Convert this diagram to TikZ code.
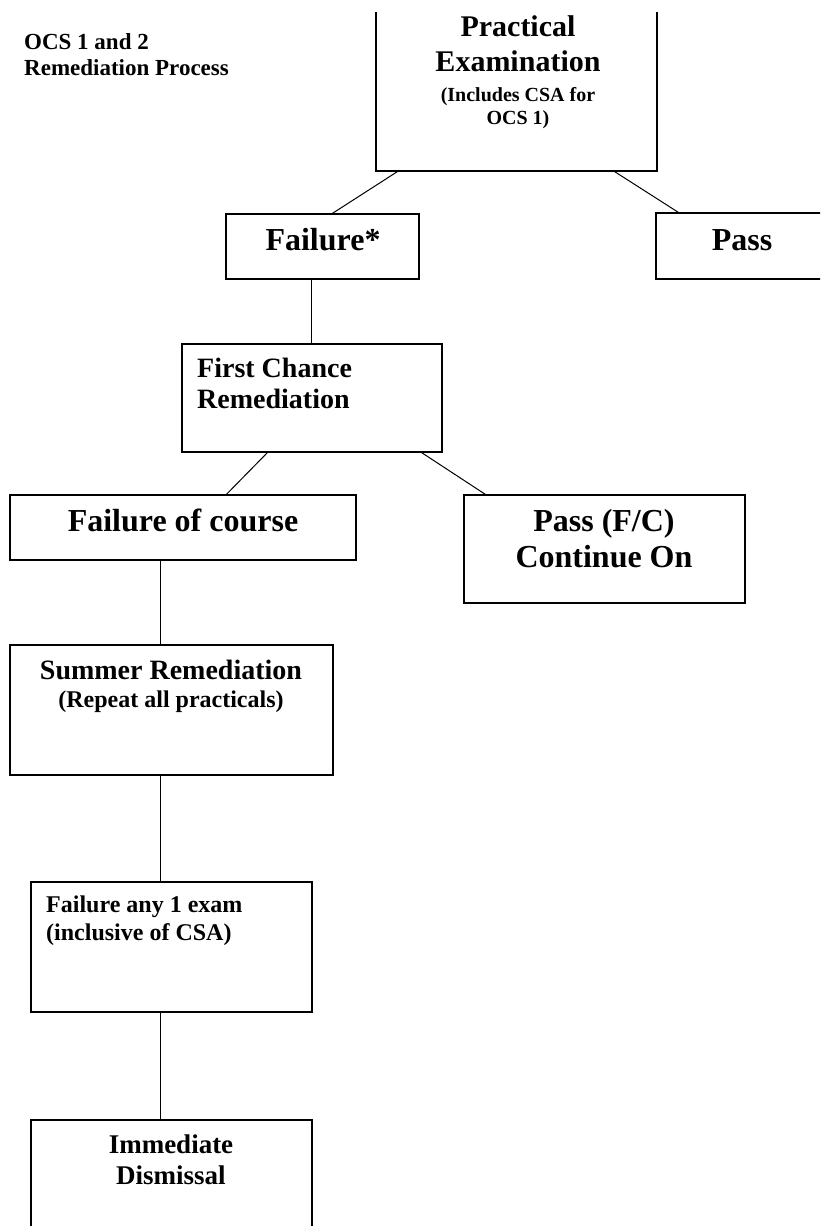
\documentclass[tikz,border=0pt]{standalone}
\usepackage{fontspec}
\setmainfont{Liberation Serif}
\usetikzlibrary{positioning,fit,calc}
\newcommand{\fsz}[2]{\fontsize{#1}{#2}\selectfont\spaceskip=\fontdimen2\font\xspaceskip=\fontdimen2\font}

\begin{document}
\begin{tikzpicture}[
    x=1pt, y=-1pt,
    box/.style={rectangle, draw, line width=1.2pt, inner sep=0pt},
    lbl/.style={inner sep=0pt, text width=#1, font=\bfseries},
    lbl/.default=280pt,
    link/.style={draw, line width=1pt}
]
    \useasboundingbox (0,0) rectangle (820,1226);
    \fill[white] (0,0) rectangle (820,1226);
    \clip (0,12) rectangle (820,1226);

    % boxes
    \node[box, fit={(376,-30) (657,171)}] (pe) {};
    \node[box, fit={(226,214) (419,279)}] (fail) {};
    \node[box, fit={(656,213) (830,279)}] (pass) {};
    \node[box, fit={(182,344) (442,452)}] (fcr) {};
    \node[box, fit={(10,495) (356,560)}] (foc) {};
    \node[box, fit={(464,495) (745,603)}] (pfc) {};
    \node[box, fit={(10,645) (333,775)}] (sr) {};
    \node[box, fit={(31,882) (312,1012)}] (fae) {};
    \node[box, fit={(31,1120) (312,1260)}] (dis) {};

    % texts
    \node[lbl=250pt, align=left, anchor=base west] (title) at (24,49.3)
        {\fsz{23}{26}OCS 1 and 2\\Remediation Process\par};
    \node[lbl, align=center, anchor=base] (petext) at (518,36)
        {\fsz{30}{35}Practical\\Examination\par\vspace{7pt}\fsz{20}{23}(Includes CSA for\\OCS 1)\par};
    \node[lbl=190pt, align=center, anchor=base] (failtext) at (323,250) {\fsz{32}{37}Failure*\par};
    \node[lbl=170pt, align=center, anchor=base] (passtext) at (742,250) {\fsz{32}{37}Pass\par};
    \node[lbl=240pt, align=left, anchor=base west] (fcrtext) at (197,377)
        {\fsz{28}{31.5}First Chance\\Remediation\par};
    \node[lbl=340pt, align=center, anchor=base] (foctext) at (183,531) {\fsz{32}{37}Failure of course\par};
    \node[lbl, align=center, anchor=base] (pfctext) at (604,531)
        {\fsz{32}{36.7}Pass (F/C)\\Continue On\par};
    \node[lbl=320pt, align=center, anchor=base] (srtext) at (171,679.3)
        {\fsz{28}{32}Summer Remediation\par\fsz{24}{28.4}(Repeat all practicals)\par};
    \node[lbl=270pt, align=left, anchor=base west] (faetext) at (46,912.7)
        {\fsz{24}{27.3}Failure any 1 exam\\(inclusive of CSA)\par};
    \node[lbl, align=center, anchor=base] (distext) at (171,1153.3)
        {\fsz{27}{31}Immediate\\Dismissal\par};

    % connectors
    \draw[link] ([xshift=22pt]pe.south west) -- ([xshift=107pt]fail.north west);
    \draw[link] ([xshift=-43pt]pe.south east) -- ([xshift=23pt]pass.north west);
    \draw[link] ([xshift=86pt]fail.south west) -- ([xshift=130pt]fcr.north west);
    \draw[link] ([xshift=86pt]fcr.south west) -- ([xshift=217pt]foc.north west);
    \draw[link] ([xshift=-21pt]fcr.south east) -- ([xshift=22pt]pfc.north west);
    \draw[link] ([xshift=151pt]foc.south west) -- ([xshift=151pt]sr.north west);
    \draw[link] ([xshift=151pt]sr.south west) -- ([xshift=130pt]fae.north west);
    \draw[link] ([xshift=130pt]fae.south west) -- ([xshift=130pt]dis.north west);
\end{tikzpicture}
\end{document}
